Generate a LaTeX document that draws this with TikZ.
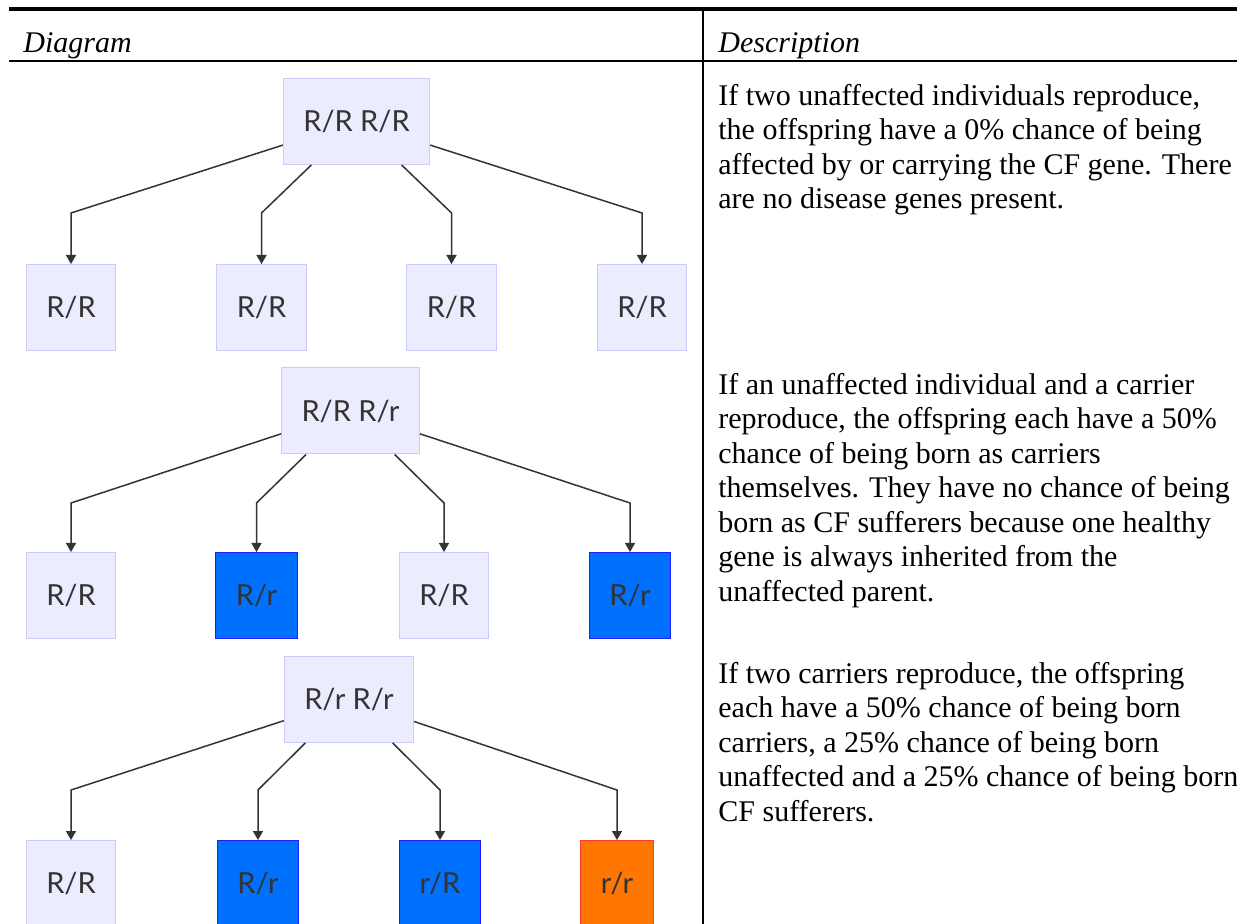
\documentclass[tikz,border=0pt]{standalone}
\usepackage{fontspec}
\setmainfont{Liberation Serif}
\newfontfamily\boxfont{Lato}
\usetikzlibrary{arrows.meta}

\definecolor{plainfill}{RGB}{236,236,255}
\definecolor{plainline}{RGB}{204,204,250}
\definecolor{carrierfill}{RGB}{0,112,255}
\definecolor{carrierline}{RGB}{30,30,255}
\definecolor{sufferfill}{RGB}{255,119,0}
\definecolor{sufferline}{RGB}{255,60,40}
\definecolor{inkgrey}{RGB}{51,51,51}

\tikzset{
	gene/.style={rectangle, draw=plainline, fill=plainfill, line width=0.5pt, text=inkgrey, font=\boxfont\fontsize{14.5}{17}\selectfont, inner xsep=10pt, minimum height=43pt},
	carrier/.style={gene, draw=carrierline, fill=carrierfill},
	sufferer/.style={gene, draw=sufferline, fill=sufferfill},
	link/.style={draw=inkgrey, line width=0.75pt, -{Triangle[length=4.5pt,width=5pt]}},
	desc/.style={anchor=north west, inner sep=0pt, align=left, font=\fontsize{15}{17.25}\selectfont},
	head/.style={anchor=base west, inner sep=0pt, font=\itshape\fontsize{15}{17.25}\selectfont}
}

\begin{document}
\begin{tikzpicture}[x=0.5pt, y=-0.5pt]
	\useasboundingbox (0,0) rectangle (1237,924);
	\draw[line width=2pt] (9,9) -- (1237,9);
	\draw[line width=1pt] (9,61) -- (1237,61);
	\draw[line width=1pt] (703,9) -- (703,924);
	\node[head] at (23,53) (hdiag) {Diagram};
	\node[head] at (718,53) (hdesc) {Description};
	
	% two unaffected parents
	\node at (356.5,121.5) [gene] (p1) {R/R R/R};
	\node at (71,307.5) [gene] (c11) {R/R};
	\node at (261.5,307.5) [gene] (c12) {R/R};
	\node at (451.5,307.5) [gene] (c13) {R/R};
	\node at (642,307.5) [gene] (c14) {R/R};
	\coordinate (b1) at (0,213);
	
	% unaffected and carrier
	\node at (350.5,411) [gene] (p2) {R/R R/r};
	\node at (71,595.5) [gene] (c21) {R/R};
	\node at (256.5,595.5) [carrier] (c22) {R/r};
	\node at (444,595.5) [gene] (c23) {R/R};
	\node at (630,595.5) [carrier] (c24) {R/r};
	\coordinate (b2) at (0,503);
	
	% two carriers
	\node at (349,699.5) [gene] (p3) {R/r R/r};
	\node at (71,883.5) [gene] (c31) {R/R};
	\node at (258,883.5) [carrier] (c32) {R/r};
	\node at (440,883.5) [carrier] (c33) {r/R};
	\node at (617,883.5) [sufferer] (c34) {r/r};
	\coordinate (b3) at (0,790);
	
	\draw [link] (p1) -- (c11 |- b1) -- (c11);
	\draw [link] (p1) -- (c12 |- b1) -- (c12);
	\draw [link] (p1) -- (c13 |- b1) -- (c13);
	\draw [link] (p1) -- (c14 |- b1) -- (c14);
	\draw [link] (p2) -- (c21 |- b2) -- (c21);
	\draw [link] (p2) -- (c22 |- b2) -- (c22);
	\draw [link] (p2) -- (c23 |- b2) -- (c23);
	\draw [link] (p2) -- (c24 |- b2) -- (c24);
	\draw [link] (p3) -- (c31 |- b3) -- (c31);
	\draw [link] (p3) -- (c32 |- b3) -- (c32);
	\draw [link] (p3) -- (c33 |- b3) -- (c33);
	\draw [link] (p3) -- (c34 |- b3) -- (c34);
	
	\node at (718,83.5) [desc] (d1) {If two unaffected individuals reproduce,\\the offspring have a 0\% chance of being\\affected by or carrying the CF gene. There\\are no disease genes present.};
	\node at (718,372.5) [desc] (d2) {If an unaffected individual and a carrier\\reproduce, the offspring each have a 50\%\\chance of being born as carriers\\themselves. They have no chance of being\\born as CF sufferers because one healthy\\gene is always inherited from the\\unaffected parent.};
	\node at (718,661.5) [desc] (d3) {If two carriers reproduce, the offspring\\each have a 50\% chance of being born\\carriers, a 25\% chance of being born\\unaffected and a 25\% chance of being born\\CF sufferers.};
\end{tikzpicture}
\end{document}
